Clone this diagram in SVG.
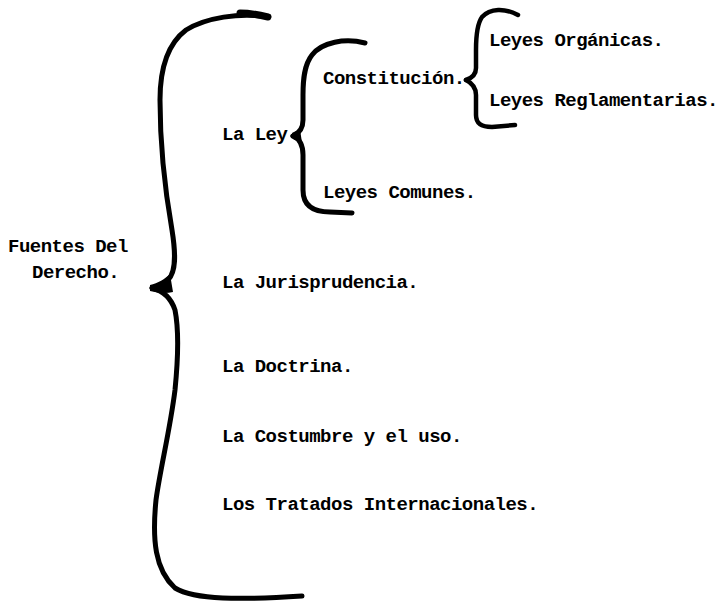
<svg xmlns="http://www.w3.org/2000/svg" width="722" height="603" viewBox="0 0 722 603">
<style>
text{font-family:"Liberation Mono","Courier New",monospace;font-weight:bold;font-size:19px;letter-spacing:-0.5px;fill:#000}
.brace{fill:none;stroke:#000;stroke-linecap:round;stroke-linejoin:round}
</style>
<rect width="722" height="603" fill="#fff"/>
<g id="connectors">
<g id="brace-main">
<path class="brace" stroke-width="5" d="M268,17 C240,12 205,18 186,30 C166,45 160,70 160,100 C160,150 165,190 172,230 C176,255 176,272 168,280 C162,285 156,287 152,288"/>
<path class="brace" stroke-width="5" d="M152,288 C160,290 170,295 175,310 C179,330 178,360 175,390 C170,430 160,470 156,500 C152,540 155,570 175,588 C195,600 240,600 302,596"/>
<path fill="#000" d="M150,285 C158,283 165,279 170,274 L173,292 C166,294 158,293 150,291 Z"/>
<path class="brace" stroke-width="7" d="M240,13 C252,13 260,15 268,17"/>
</g>
<g id="brace-ley">
<path class="brace" stroke-width="5" d="M365,43 C345,38 322,42 312,55 C304,65 303,80 303,95 L303,120 C303,128 300,133 293,136"/>
<path class="brace" stroke-width="5" d="M293,136 C300,139 303,145 303,155 L303,190 C303,205 312,212 330,212 L352,213"/>
<path fill="#000" d="M292,133 L300,129 L302,143 L293,139 Z"/>
</g>
<g id="brace-constitucion">
<path class="brace" stroke-width="4.5" d="M518,15 C505,8 490,8 482,17 C477,24 476,35 476,50 L476,68 C476,74 472,78 466,80"/>
<path class="brace" stroke-width="4.5" d="M466,80 C472,83 476,88 476,95 L476,115 C476,124 482,127 492,127 L515,125"/>
</g>
</g>
<g id="node-fuentes"><text x="8" y="252">Fuentes Del</text><text x="32" y="278">Derecho.</text></g>
<g id="node-ley"><text x="222" y="140">La Ley</text></g>
<g id="node-constitucion"><text x="323" y="84">Constitución.</text></g>
<g id="node-organicas"><text x="489" y="46">Leyes Orgánicas.</text></g>
<g id="node-reglamentarias"><text x="489" y="106">Leyes Reglamentarias.</text></g>
<g id="node-comunes"><text x="323" y="198">Leyes Comunes.</text></g>
<g id="node-jurisprudencia"><text x="222" y="288">La Jurisprudencia.</text></g>
<g id="node-doctrina"><text x="222" y="372">La Doctrina.</text></g>
<g id="node-costumbre"><text x="222" y="442">La Costumbre y el uso.</text></g>
<g id="node-tratados"><text x="222" y="510">Los Tratados Internacionales.</text></g>
</svg>
